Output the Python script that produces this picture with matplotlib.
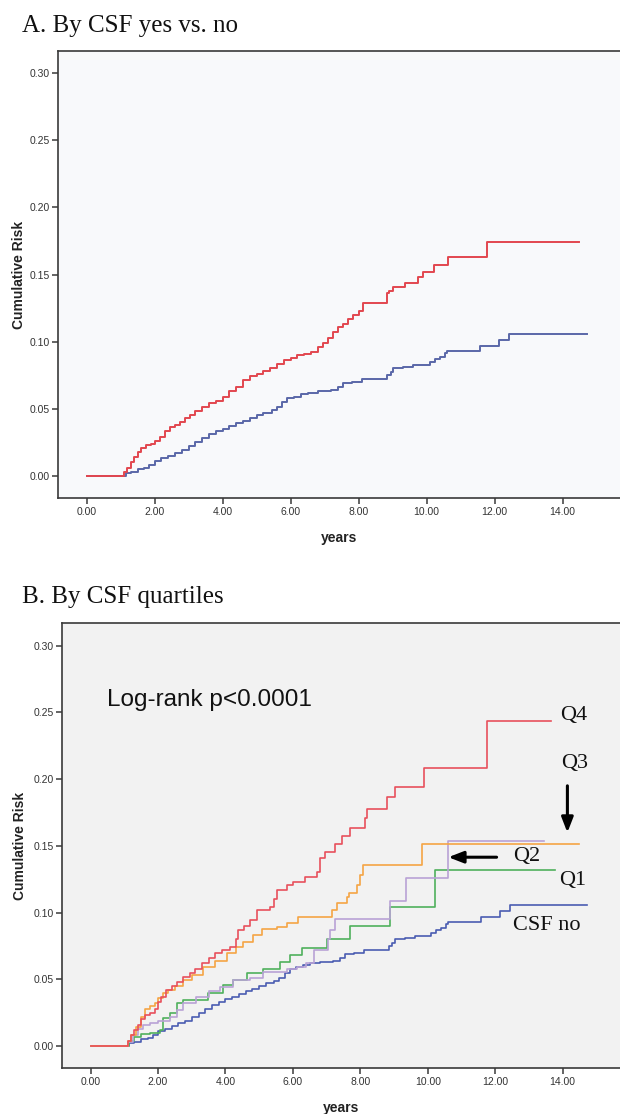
import matplotlib
matplotlib.use("Agg")
import matplotlib.pyplot as plt

# ---------------- data ----------------
# Panel A: CSF yes (red) vs CSF no (blue)
csf_yes_t = [0.0, 1.0, 1.1, 1.2, 1.3, 1.4, 1.5, 1.6, 1.75, 1.9, 2.0, 2.15, 2.3, 2.45, 2.6,
             2.75, 2.9, 3.05, 3.2, 3.4, 3.6, 3.8, 4.0, 4.2, 4.4, 4.6, 4.8, 5.0, 5.2, 5.4,
             5.6, 5.8, 6.0, 6.2, 6.4, 6.6, 6.8, 6.95, 7.1, 7.25, 7.4, 7.55, 7.7, 7.85,
             8.0, 8.14, 8.83, 8.9, 9.0, 9.37, 9.76, 9.89, 10.22, 10.62, 11.77, 14.49]
csf_yes_r = [0.0, 0.0, 0.003, 0.006, 0.010, 0.014, 0.018, 0.021, 0.023, 0.024, 0.026, 0.029,
             0.033, 0.036, 0.038, 0.040, 0.043, 0.045, 0.048, 0.051, 0.054, 0.056, 0.059,
             0.063, 0.066, 0.071, 0.074, 0.076, 0.078, 0.080, 0.083, 0.086, 0.088, 0.090,
             0.091, 0.092, 0.096, 0.099, 0.103, 0.107, 0.111, 0.113, 0.117, 0.120, 0.123,
             0.129, 0.136, 0.138, 0.1404, 0.1439, 0.1479, 0.152, 0.157, 0.1633, 0.1744, 0.1744]

csf_no_t = [0.0, 1.0, 1.15, 1.3, 1.5, 1.7, 1.85, 2.0, 2.2, 2.4, 2.6, 2.8, 3.0, 3.2, 3.4,
            3.6, 3.8, 4.0, 4.2, 4.4, 4.6, 4.8, 5.0, 5.2, 5.45, 5.6, 5.75, 5.9, 6.1, 6.3,
            6.5, 6.8, 7.2, 7.4, 7.55, 7.8, 8.1, 8.85, 8.95, 9.02, 9.32, 9.61, 10.1, 10.25,
            10.4, 10.54, 10.6, 11.57, 12.14, 12.43, 14.71]
csf_no_r = [0.0, 0.0, 0.002, 0.003, 0.005, 0.006, 0.008, 0.011, 0.013, 0.015, 0.017, 0.019,
            0.022, 0.025, 0.028, 0.031, 0.033, 0.035, 0.037, 0.039, 0.041, 0.043, 0.045,
            0.047, 0.049, 0.051, 0.055, 0.058, 0.059, 0.061, 0.062, 0.063, 0.064, 0.066,
            0.069, 0.070, 0.072, 0.075, 0.0775, 0.080, 0.0813, 0.0828, 0.085, 0.087,
            0.0887, 0.0912, 0.0932, 0.0967, 0.1012, 0.1059, 0.1059]

# Panel B: CSF quartiles
q4_t = [0.0, 1.0, 1.1, 1.2, 1.3, 1.4, 1.5, 1.6, 1.75, 1.9, 2.0, 2.1, 2.25, 2.4, 2.55, 2.75,
        2.95, 3.1, 3.29, 3.5, 3.69, 3.9, 4.13, 4.3, 4.38, 4.55, 4.73, 4.92, 5.32, 5.45,
        5.52, 5.81, 6.01, 6.36, 6.7, 6.8, 6.95, 7.25, 7.45, 7.69, 8.14, 8.19, 8.78, 9.03,
        9.9, 11.75, 13.65]
q4_r = [0.0, 0.0, 0.004, 0.008, 0.012, 0.016, 0.020, 0.023, 0.025, 0.028, 0.033, 0.037,
        0.042, 0.045, 0.048, 0.052, 0.055, 0.058, 0.062, 0.066, 0.0695, 0.072, 0.0744,
        0.080, 0.087, 0.090, 0.0945, 0.102, 0.1044, 0.110, 0.117, 0.1207, 0.1232, 0.127,
        0.1307, 0.1407, 0.1457, 0.1514, 0.1574, 0.1637, 0.1707, 0.1774, 0.1864, 0.1944,
        0.2082, 0.2439, 0.2439]

q3_t = [0.0, 1.0, 1.1, 1.2, 1.35, 1.5, 1.6, 1.75, 1.9, 2.0, 2.15, 2.3, 2.5, 2.75, 3.0,
        3.34, 3.7, 4.03, 4.3, 4.53, 4.82, 5.07, 5.52, 5.81, 6.16, 7.15, 7.3, 7.59, 7.65,
        7.89, 7.99, 8.09, 9.83, 14.49]
q3_r = [0.0, 0.0, 0.004, 0.008, 0.014, 0.022, 0.028, 0.030, 0.032, 0.036, 0.0395, 0.042,
        0.045, 0.0495, 0.053, 0.0594, 0.064, 0.0695, 0.074, 0.0782, 0.0832, 0.0875,
        0.0894, 0.0924, 0.0965, 0.102, 0.107, 0.112, 0.1145, 0.1207, 0.128, 0.1357,
        0.1514, 0.1514]

q2_t = [0.0, 1.0, 1.1, 1.25, 1.4, 1.55, 1.76, 2.0, 2.35, 2.55, 2.75, 3.14, 3.5, 3.84,
        4.23, 4.73, 5.12, 5.81, 6.11, 6.4, 6.63, 7.05, 7.1, 7.25, 8.89, 9.34, 10.6, 13.46]
q2_r = [0.0, 0.0, 0.003, 0.008, 0.013, 0.016, 0.017, 0.019, 0.022, 0.027, 0.032, 0.037,
        0.041, 0.0445, 0.0495, 0.0507, 0.0557, 0.058, 0.0594, 0.062, 0.072, 0.080,
        0.087, 0.095, 0.1089, 0.1257, 0.1539, 0.1539]

q1_t = [0.0, 1.0, 1.15, 1.3, 1.5, 1.76, 2.06, 2.15, 2.35, 2.55, 2.75, 3.49, 3.93, 4.23,
        4.63, 5.12, 5.62, 5.91, 6.26, 7.0, 7.69, 8.89, 10.21, 13.77]
q1_r = [0.0, 0.0, 0.004, 0.007, 0.009, 0.0095, 0.012, 0.0207, 0.025, 0.032, 0.0345,
        0.0395, 0.0457, 0.0495, 0.0545, 0.0575, 0.0632, 0.0682, 0.0737, 0.0804, 0.090,
        0.1044, 0.1319, 0.1319]

x_ticks = [0, 2, 4, 6, 8, 10, 12, 14]
y_ticks = [0.00, 0.05, 0.10, 0.15, 0.20, 0.25, 0.30]

# ---------------- figure ----------------
W, H = 620, 1114
fig = plt.figure(figsize=(W / 100, H / 100), dpi=100)
fig.patch.set_facecolor("white")

SANS = ["Liberation Sans", "DejaVu Sans"]
SERIF = ["Liberation Serif", "DejaVu Serif"]


def px_axes(left, top, right, bottom):
    return fig.add_axes([left / W, 1 - bottom / H, (right - left) / W, (bottom - top) / H])


def style(ax, face, ypad):
    ax.set_facecolor(face)
    for s in ["left", "bottom", "top"]:
        ax.spines[s].set_color("#3a3a3a")
        ax.spines[s].set_linewidth(1.2)
    ax.spines["right"].set_visible(False)
    ax.set_xticks(x_ticks)
    ax.set_xticklabels([f"{v:.2f}" for v in x_ticks])
    ax.set_yticks(y_ticks)
    ax.set_yticklabels([f"{v:.2f}" for v in y_ticks])
    ax.tick_params(axis="both", length=4, width=1.1, color="#3a3a3a", pad=2,
                   labelsize=7.5, labelcolor="#333333")
    for lab in ax.get_xticklabels() + ax.get_yticklabels():
        lab.set_family(SANS)
    ax.set_xlabel("years", fontsize=10, fontweight="bold", family=SANS, labelpad=10,
                  color="#222222")
    ax.set_ylabel("Cumulative Risk", fontsize=10, fontweight="bold", family=SANS,
                  labelpad=ypad, color="#222222")


# Panel A
axA = px_axes(58.3, 50.7, 620, 498.3)
style(axA, "#f8f9fb", 3)
axA.set_xlim(-0.83, 15.69)
axA.set_ylim(-0.0168, 0.3168)
axA.plot(csf_no_t, csf_no_r, drawstyle="steps-post", color="#5a68a8", lw=1.4)
axA.plot(csf_yes_t, csf_yes_r, drawstyle="steps-post", color="#e2474f", lw=1.4)
fig.text(21.7 / W, 1 - 31.7 / H, "A. By CSF yes vs. no", family=SERIF, fontsize=18,
         ha="left", va="baseline", color="#111111")

# Panel B
axB = px_axes(62.3, 623.3, 620, 1068.3)
style(axB, "#f2f2f2", 5)
axB.set_xlim(-0.84, 15.70)
axB.set_ylim(-0.0167, 0.3168)
axB.plot(csf_no_t, csf_no_r, drawstyle="steps-post", color="#4a5cb2", lw=1.2)
axB.plot(q1_t, q1_r, drawstyle="steps-post", color="#4fb05c", lw=1.2)
axB.plot(q2_t, q2_r, drawstyle="steps-post", color="#b9a2d6", lw=1.2)
axB.plot(q3_t, q3_r, drawstyle="steps-post", color="#f5a545", lw=1.2)
axB.plot(q4_t, q4_r, drawstyle="steps-post", color="#e8505c", lw=1.2)
fig.text(21.7 / W, 1 - 603 / H, "B. By CSF quartiles", family=SERIF, fontsize=18,
         ha="left", va="baseline", color="#111111")

axB.text(0.49, 0.2545, "Log-rank p<0.0001", family=SANS, fontsize=17.5,
         ha="left", va="baseline", color="#111111")
for lab, x, y in [("Q4", 14.34, 0.2474), ("Q3", 14.34, 0.2121), ("Q2", 12.94, 0.1424),
                  ("Q1", 14.31, 0.1237), ("CSF no", 13.54, 0.090)]:
    axB.text(x, y, lab, family=SERIF, fontsize=16, ha="center", va="center",
             color="#111111")
arrow = dict(arrowstyle="-|>,head_length=0.9,head_width=0.35", color="black", lw=2.2,
             shrinkA=0, shrinkB=0)
axB.annotate("", xy=(14.14, 0.160), xytext=(14.14, 0.195), arrowprops=arrow)
axB.annotate("", xy=(10.61, 0.1415), xytext=(12.04, 0.1415), arrowprops=arrow)

fig.savefig("out.png", dpi=100, facecolor="white")
